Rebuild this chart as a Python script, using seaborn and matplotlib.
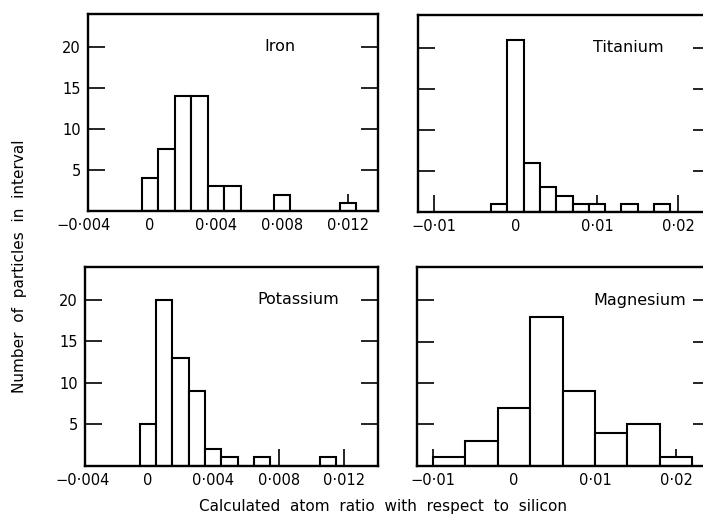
import numpy as np
import pandas as pd
import matplotlib
matplotlib.use("Agg")
import matplotlib.pyplot as plt
import matplotlib.transforms as mtransforms
import seaborn as sns

# bin centres (atom ratio) and number of particles per interval
iron_x = [0.0, 0.001, 0.002, 0.003, 0.004, 0.005, 0.008, 0.012]
iron_n = [4, 7.5, 14, 14, 3, 3, 2, 1]

titanium_x = [-0.002, 0.0, 0.002, 0.004, 0.006, 0.008, 0.010, 0.014, 0.018]
titanium_n = [1, 21, 6, 3, 2, 1, 1, 1, 1]

potassium_x = [0.0, 0.001, 0.002, 0.003, 0.004, 0.005, 0.007, 0.011]
potassium_n = [5, 20, 13, 9, 2, 1, 1, 1]

magnesium_x = [-0.008, -0.004, 0.0, 0.004, 0.008, 0.012, 0.016, 0.020]
magnesium_n = [1, 3, 7, 18, 9, 4, 5, 1]

small_ticks = [-0.004, 0, 0.004, 0.008, 0.012]
small_labels = ["\u22120\u00b7004", "0", "0\u00b7004", "0\u00b7008", "0\u00b7012"]
big_ticks = [-0.01, 0, 0.01, 0.02]
big_labels = ["\u22120\u00b701", "0", "0\u00b701", "0\u00b702"]
y_ticks = [5, 10, 15, 20]

sns.set_style("ticks", {"axes.edgecolor": "black", "text.color": "black",
                        "xtick.color": "black", "ytick.color": "black"})
plt.rcParams['font.family'] = ['DejaVu Sans']

fig = plt.figure(figsize=(7.03, 5.22), dpi=100)

panels = [
    # name, x, n, binwidth, axes rect, xlim, ticks, labels, ylabels, text x
    ("Iron", iron_x, iron_n, 0.001, [0.1252, 0.5958, 0.4125, 0.3774],
     (-0.00376, 0.01382), small_ticks, small_labels, True, 0.0079),
    ("Titanium", titanium_x, titanium_n, 0.002, [0.5946, 0.5939, 0.4154, 0.3774],
     (-0.0120, 0.0239), big_ticks, big_labels, False, 0.0139),
    ("Potassium", potassium_x, potassium_n, 0.001, [0.1209, 0.1079, 0.4164, 0.3812],
     (-0.00383, 0.01405), small_ticks, small_labels, True, 0.0092),
    ("Magnesium", magnesium_x, magnesium_n, 0.004, [0.5927, 0.1079, 0.4173, 0.3800],
     (-0.0120, 0.0242), big_ticks, big_labels, False, 0.0155),
]

for name, xs, ns, w, rect, xlim, ticks, labels, ylab, tx in panels:
    ax = fig.add_axes(rect)
    df = pd.DataFrame({"ratio": xs, "count": ns})
    edges = list(np.arange(min(xs) - w / 2, max(xs) + w / 2 + w / 10, w))
    sns.histplot(data=df, x="ratio", weights="count", bins=edges, ax=ax,
                 color="white", edgecolor="black", linewidth=1.5, alpha=1)
    ax.set_xlim(*xlim)
    ax.set_ylim(0, 24)
    ax.set_xlabel("")
    ax.set_ylabel("")
    # ticks that fall outside the frame get a label drawn by hand
    inside = [(t, l) for t, l in zip(ticks, labels) if xlim[0] <= t <= xlim[1]]
    ax.set_xticks([t for t, l in inside])
    ax.set_xticklabels([l for t, l in inside])
    trans = mtransforms.blended_transform_factory(ax.transData, ax.transAxes)
    for t, l in zip(ticks, labels):
        if t < xlim[0]:
            ax.text(t, -0.035, l, transform=trans, ha="center", va="top",
                    fontsize=10.5, color="black", clip_on=False)
    ax.set_yticks(y_ticks)
    if not ylab:
        ax.set_yticklabels([])
    ax.tick_params(axis="both", direction="in", length=12, width=1.2,
                   labelsize=10.5, pad=5, colors="black")
    ax.tick_params(axis="y", right=True)
    for s in ax.spines.values():
        s.set_visible(True)
        s.set_linewidth(1.7)
        s.set_color("black")
    ax.text(tx, 20, name, ha="center", va="center", fontsize=11.5,
            color="black")

fig.text(0.028, 0.49, "Number  of  particles  in  interval", rotation=90,
         ha="center", va="center", fontsize=11, color="black")
fig.text(0.545, 0.03, "Calculated  atom  ratio  with  respect  to  silicon",
         ha="center", va="center", fontsize=11, color="black")

fig.savefig("out.png", dpi=100)
